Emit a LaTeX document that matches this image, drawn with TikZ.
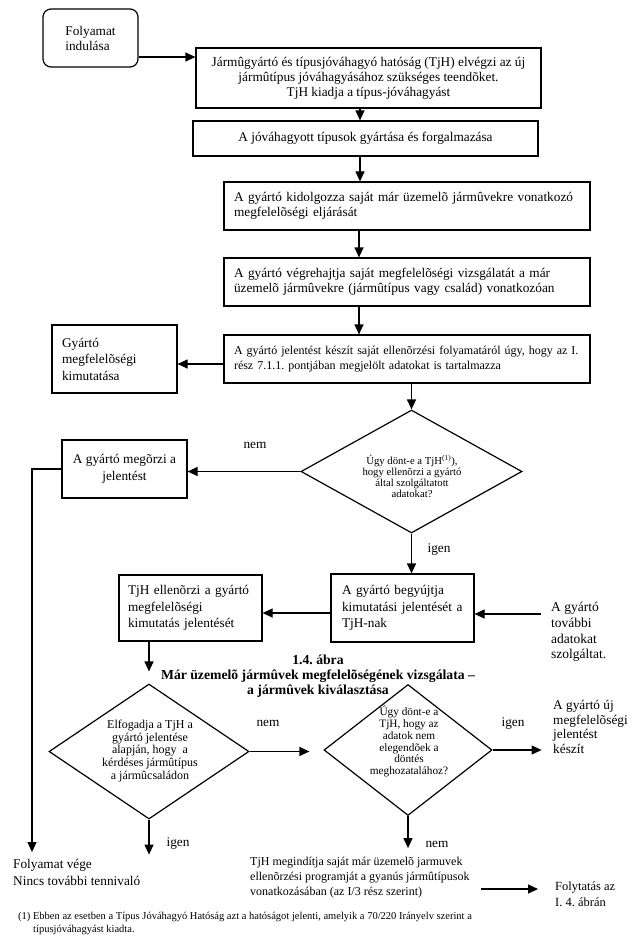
\documentclass[tikz,border=0pt]{standalone}
\usepackage{fontspec}
\setmainfont{Liberation Serif}
\usetikzlibrary{arrows.meta,shapes.geometric}
\frenchspacing
\begin{document}
\begin{tikzpicture}[x=1pt,y=-1pt,
  box/.style={draw,line width=1.2pt,rectangle,inner sep=0pt},
  lbox/.style={box,align=left,inner xsep=10pt},
  dia/.style={draw,line width=1.2pt,diamond,inner sep=0pt},
  arr/.style={line width=1.2pt,-{Triangle[length=10pt,width=9pt]}},
  plain/.style={inner sep=0pt,align=left},
  fmain/.style={font=\fontsize{13.3}{15}\selectfont},
  fwide/.style={font=\fontsize{13.3}{16.5}\selectfont},
  fsmall/.style={font=\fontsize{12}{15}\selectfont},
  lab/.style={inner sep=0pt,font=\fontsize{13.3}{15}\selectfont}]
\fill[white] (0,0) rectangle (636,936);
\useasboundingbox (0,0) rectangle (636,936);

% boxes
\node[box,rounded corners=8pt,minimum width=95pt,minimum height=58pt,align=left,fmain] (start) at (90.5,38) {Folyamat\\indulása};
\node[box,minimum width=345pt,minimum height=60pt,align=center,fmain] (b1) at (368.5,78)
  {Jármûgyártó és típusjóváhagyó hatóság (TjH) elvégzi az új\\jármûtípus jóváhagyásához szükséges teendõket.\\TjH kiadja a típus-jóváhagyást};
\node[box,minimum width=345pt,minimum height=35pt,align=center,fmain] (b2) at (365.5,138.5)
  {A jóváhagyott típusok gyártása és forgalmazása};
\node[lbox,text width=346pt,minimum height=48pt,fmain] (b3) at (407,206)
  {A gyártó kidolgozza saját már üzemelõ jármûvekre vonatkozó\\megfelelõségi eljárását};
\node[lbox,text width=346pt,minimum height=48pt,fmain] (b4) at (407,282)
  {A gyártó végrehajtja saját megfelelõségi vizsgálatát a már\\üzemelõ jármûvekre (jármûtípus vagy család) vonatkozóan};
\node[lbox,text width=346pt,minimum height=48pt,fsmall] (b5) at (407,359)
  {A gyártó jelentést készít saját ellenõrzési folyamatáról úgy, hogy az I.\\rész 7.1.1. pontjában megjelölt adatokat is tartalmazza};
\node[lbox,text width=105pt,minimum height=68pt,fwide] (gy) at (114.5,359)
  {Gyártó\\megfelelõségi\\kimutatása};
\node[box,minimum width=125pt,minimum height=58pt,align=center,fwide] (mg) at (124.5,469)
  {A gyártó megõrzi a\\jelentést};
\node[lbox,inner xsep=9pt,text width=125pt,minimum height=66pt,fwide] (te) at (190.5,608)
  {TjH ellenõrzi a gyártó\\megfelelõségi\\kimutatás jelentését};
\node[lbox,inner xsep=11pt,text width=121pt,minimum height=68pt,fwide] (bg) at (402.5,608)
  {A gyártó begyújtja\\kimutatási jelentését a\\TjH-nak};

% diamonds
\node[dia,minimum width=221pt,minimum height=123pt] (d1) at (411.5,471.5) {};
\node[plain,align=center,font=\fontsize{10.7}{11}\selectfont] (d1t) at (412,476)
  {Úgy dönt-e a TjH\textsuperscript{(1)}),\\hogy ellenõrzi a gyártó\\által szolgáltatott\\adatokat?};
\node[dia,minimum width=200pt,minimum height=135pt] (d2) at (149,751.5) {};
\node[plain,align=center,font=\fontsize{12}{12.7}\selectfont] (d2t) at (150,751)
  {Elfogadja a TjH a\\gyártó jelentése\\alapján, hogy~ a\\kérdéses jármûtípus\\a jármûcsaládon};
\node[dia,minimum width=168pt,minimum height=131pt] (d3) at (408,750) {};
\node[plain,align=center,font=\fontsize{11.3}{11.8}\selectfont] (d3t) at (409,741.5)
  {Úgy dönt-e a\\TjH, hogy az\\adatok nem\\elegendõek a\\döntés\\meghozatalához?};

% free texts
\node[plain,align=center,font=\bfseries\fontsize{13.7}{15}\selectfont] (title) at (318,676)
  {1.4. ábra\\Már üzemelõ jármûvek megfelelõségének vizsgálata –\\a jármûvek kiválasztása};
\node[plain,anchor=west,font=\fontsize{13.5}{15.7}\selectfont] (adat) at (551,632)
  {A gyártó\\további\\adatokat\\szolgáltat.};
\node[plain,anchor=west,font=\fontsize{13.3}{14.8}\selectfont] (uj) at (553,727)
  {A gyártó új\\megfelelõségi\\jelentést\\készít};
\node[plain,anchor=west,font=\fontsize{13.3}{17}\selectfont] (endtxt) at (13,872)
  {Folyamat vége\\Nincs további tennivaló};
\node[plain,anchor=west,fsmall] (tm) at (250,878)
  {TjH megindítja saját már üzemelõ jarmuvek\\ellenõrzési programját a gyanús jármûtípusok\\vonatkozásában (az I/3 rész szerint)};
\node[plain,anchor=west,font=\fontsize{12.5}{16}\selectfont] (fo) at (555,894)
  {Folytatás az\\I. 4. ábrán};
\node[plain,anchor=north west,font=\fontsize{10.5}{13}\selectfont] (fn) at (18,912)
  {(1) Ebben az esetben a Típus Jóváhagyó Hatóság azt a hatóságot jelenti, amelyik a 70/220 Irányelv szerint a\\\hspace*{15pt}típusjóváhagyást kiadta.};

% labels
\node[lab] (l1) at (255,445) {nem};
\node[lab] (l2) at (439,550) {igen};
\node[lab] (l3) at (268,723) {nem};
\node[lab] (l4) at (513,724) {igen};
\node[lab] (l5) at (178,844) {igen};
\node[lab] (l6) at (437,844) {nem};

% coordinates
\coordinate (endpt) at (32,852);
\coordinate (adin) at (541,614);
\coordinate (a1) at (481,889);

% connectors
\draw[arr] ([yshift=-19pt]start.east) -- ([yshift=-19pt]start.east -| b1.west);
\draw[arr] ([xshift=-8.5pt]b1.south) -- ([xshift=-8.5pt]b1.south |- b2.north);
\draw[arr] ([xshift=-5.5pt]b2.south) -- ([xshift=-5.5pt]b2.south |- b3.north);
\draw[arr] ([xshift=-48pt]b3.south) -- ([xshift=-48pt]b3.south |- b4.north);
\draw[arr] ([xshift=-48pt]b4.south) -- ([xshift=-48pt]b4.south |- b5.north);
\draw[arr] ([yshift=-5pt]b5.west) -- ([yshift=-5pt]b5.west -| gy.east);
\draw[arr] (d1.north |- b5.south) -- (d1.north);
\draw[arr] (d1.west) -- (d1.west -| mg.east);
\draw[arr] (mg.west) -| (endpt);
\draw[arr] (d1.south) -- (d1.south |- bg.north);
\draw[arr] ([yshift=-5pt]bg.west) -- ([yshift=-5pt]bg.west -| te.east);
\draw[arr] (adin) -- (adin -| bg.east);
\draw[arr] (te.south -| d2.north) -- ([yshift=12pt]d2.north);
\draw[arr] (d2.east) -- ([xshift=-14pt]d3.west |- d2.east);
\draw[arr] (d2.south) -- ([yshift=-35pt]d2.south);
\draw[arr] (d3.east) -- ([xshift=49pt]d3.east);
\draw[arr] (d3.south) -- ([yshift=-32pt]d3.south);
\draw[arr,shorten >=17pt] (a1) -- (a1 -| fo.west);
\end{tikzpicture}
\end{document}
